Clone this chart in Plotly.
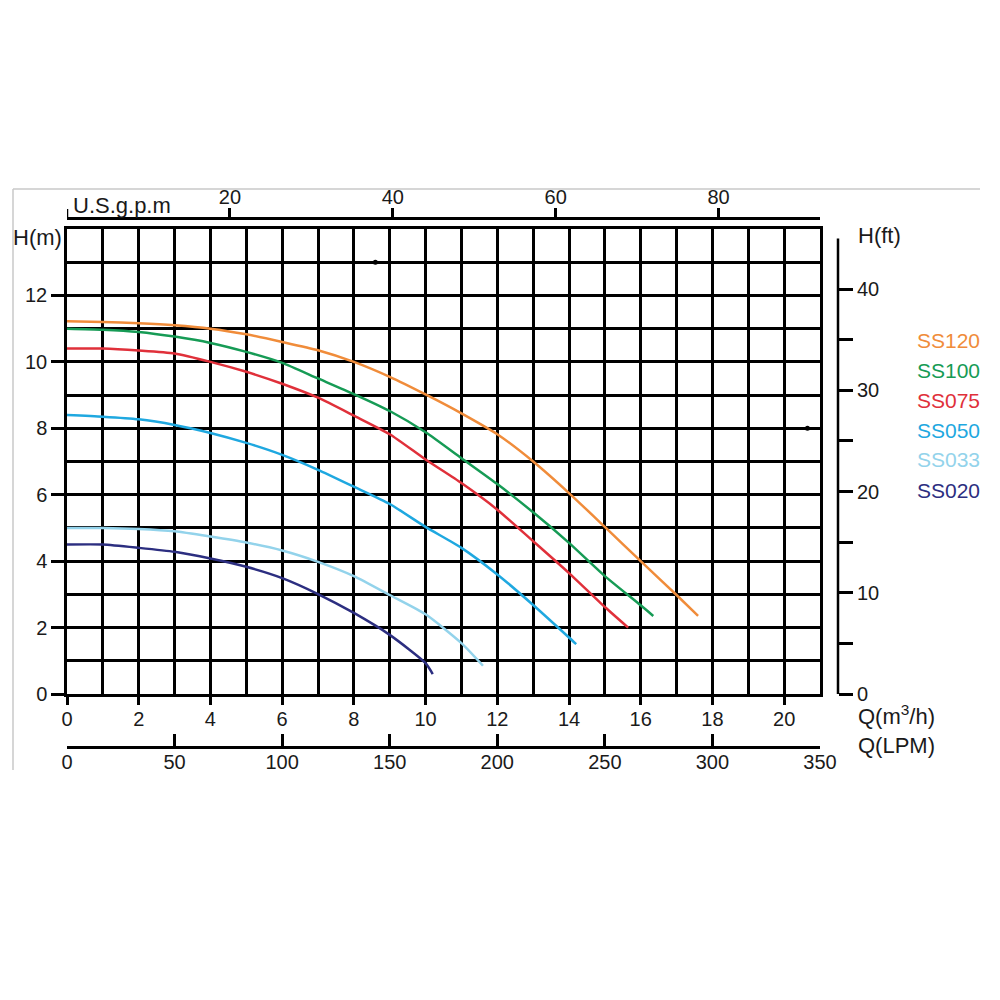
import plotly.graph_objects as go

# ---------------- data ----------------
ss120_q = [0, 1, 2, 3, 4, 5, 6, 7, 8, 9, 10, 11, 12, 13, 14, 15, 16, 17, 17.6]
ss120_h = [11.22, 11.2, 11.16, 11.1, 11.0, 10.83, 10.6, 10.35, 10.0, 9.55, 9.02, 8.45, 7.82, 7.0, 6.05, 5.03, 4.0, 2.98, 2.35]

ss100_q = [0, 1, 2, 3, 4, 5, 6, 7, 8, 9, 10, 11, 12, 13, 14, 15, 16, 16.35]
ss100_h = [11.0, 10.97, 10.9, 10.76, 10.57, 10.3, 9.97, 9.5, 9.03, 8.52, 7.88, 7.1, 6.32, 5.47, 4.55, 3.55, 2.67, 2.35]

ss075_q = [0, 1, 2, 3, 4, 5, 6, 7, 8, 9, 10, 11, 12, 13, 14, 15, 15.65]
ss075_h = [10.4, 10.4, 10.34, 10.25, 10.0, 9.7, 9.34, 8.92, 8.38, 7.82, 7.06, 6.35, 5.55, 4.6, 3.64, 2.62, 2.0]

ss050_q = [0, 1, 2, 3, 4, 5, 6, 7, 8, 9, 10, 11, 12, 13, 14, 14.2]
ss050_h = [8.4, 8.35, 8.27, 8.1, 7.86, 7.56, 7.2, 6.75, 6.24, 5.72, 5.03, 4.4, 3.6, 2.68, 1.7, 1.5]

ss033_q = [0, 1, 2, 3, 4, 5, 6, 7, 8, 9, 10, 11, 11.6]
ss033_h = [5.0, 5.0, 4.97, 4.9, 4.74, 4.56, 4.32, 3.98, 3.55, 2.98, 2.4, 1.53, 0.85]

ss020_q = [0, 1, 2, 3, 4, 5, 6, 7, 8, 9, 10, 10.2]
ss020_h = [4.5, 4.5, 4.4, 4.28, 4.08, 3.83, 3.49, 3.01, 2.44, 1.78, 0.93, 0.6]

series_names = ["SS120", "SS100", "SS075", "SS050", "SS033", "SS020"]
series_colors = ["#F08C3A", "#169B55", "#E0303A", "#1FA8E0", "#93D3EB", "#2C2E80"]

# axis tick values
q_ticks = [0, 2, 4, 6, 8, 10, 12, 14, 16, 18, 20]
h_ticks = [0, 2, 4, 6, 8, 10, 12]
gpm_ticks = [20, 40, 60, 80]
lpm_ticks = [0, 50, 100, 150, 200, 250, 300, 350]
ft_ticks = [0, 10, 20, 30, 40]
ft_minor = [5, 15, 25, 35]

# stray dots in the reference picture
dot_q = [8.6, 20.65]
dot_h = [13.0, 8.0]

Q_MAX = 21
H_MAX = 14
GPM_PER_M3H = 4.40287
M_PER_FT = 0.3048

FONT = "Liberation Sans, Arial, sans-serif"
TXT = "#1a1a1a"

fig = go.Figure()

curves = [(ss120_q, ss120_h), (ss100_q, ss100_h), (ss075_q, ss075_h),
          (ss050_q, ss050_h), (ss033_q, ss033_h), (ss020_q, ss020_h)]
for (q, h), name, col in zip(curves, series_names, series_colors):
    fig.add_trace(go.Scatter(x=q, y=h, mode="lines", name=name,
                             line=dict(color=col, width=2.5, shape="spline", smoothing=0.6),
                             hoverinfo="skip"))

fig.add_trace(go.Scatter(x=dot_q, y=dot_h, mode="markers",
                         marker=dict(color="black", size=5), hoverinfo="skip"))

# hidden traces to activate the secondary axes
fig.add_trace(go.Scatter(x=[None], y=[None], xaxis="x2", yaxis="y", hoverinfo="skip"))
fig.add_trace(go.Scatter(x=[None], y=[None], xaxis="x3", yaxis="y", hoverinfo="skip"))
fig.add_trace(go.Scatter(x=[None], y=[None], xaxis="x", yaxis="y2", hoverinfo="skip"))

LW = 2.5
tickfont = dict(family=FONT, size=20, color=TXT)
GPM_POS = 0.782

fig.update_layout(
    width=1000, height=1000, autosize=False,
    margin=dict(l=0, r=0, t=0, b=0, pad=0, autoexpand=False),
    paper_bgcolor="white", plot_bgcolor="white",
    showlegend=False,
    xaxis=dict(
        domain=[0.067, 0.820], range=[0, Q_MAX], automargin=False,
        tickvals=q_ticks, ticks="outside", ticklen=8, tickwidth=LW, tickcolor="black",
        ticklabelstandoff=-3,
        showgrid=True, gridcolor="black", gridwidth=LW,
        minor=dict(dtick=1, tick0=0, showgrid=True, gridcolor="black", gridwidth=LW, ticks=""),
        showline=True, linecolor="black", linewidth=LW, mirror=True,
        zeroline=False, tickfont=tickfont,
    ),
    yaxis=dict(
        domain=[0.306, 0.771], range=[0, H_MAX], automargin=False,
        tickvals=h_ticks, ticks="outside", ticklen=13, tickwidth=LW, tickcolor="black",
        showgrid=True, gridcolor="black", gridwidth=LW,
        minor=dict(dtick=1, tick0=0, showgrid=True, gridcolor="black", gridwidth=LW, ticks=""),
        showline=True, linecolor="black", linewidth=LW, mirror=True,
        zeroline=False, tickfont=tickfont,
    ),
    xaxis2=dict(
        overlaying="x", side="top", anchor="free", position=GPM_POS, automargin=False,
        range=[0, Q_MAX * GPM_PER_M3H],
        tickvals=gpm_ticks, ticklabelstandoff=-4,
        ticks="outside", ticklen=9, tickwidth=LW, tickcolor="black",
        showline=True, linecolor="black", linewidth=LW,
        showgrid=False, zeroline=False, tickfont=tickfont,
    ),
    xaxis3=dict(
        overlaying="x", side="bottom", anchor="free", position=0.253, automargin=False,
        range=[0, Q_MAX * 1000 / 60],
        tickvals=lpm_ticks, ticks="inside", ticklen=12, tickwidth=LW, tickcolor="black",
        ticklabelstandoff=-4,
        showline=True, linecolor="black", linewidth=LW,
        showgrid=False, zeroline=False, tickfont=tickfont,
    ),
    yaxis2=dict(
        overlaying="y", side="right", anchor="free", position=0.838, automargin=False,
        range=[0, H_MAX / M_PER_FT],
        tickvals=ft_ticks, ticks="outside", ticklen=14, tickwidth=LW, tickcolor="black",
        minor=dict(tickvals=ft_minor, ticks="outside", ticklen=14, tickwidth=LW,
                   tickcolor="black", showgrid=False),
        showline=False, showgrid=False, zeroline=False, tickfont=tickfont,
    ),
)

# right axis line (0 .. 45 ft)
fig.add_shape(type="line", xref="paper", yref="y2", x0=0.838, x1=0.838, y0=0, y1=45,
              line=dict(color="black", width=LW))
# small end tick at the start of the U.S.gpm axis
fig.add_shape(type="line", xref="x2", yref="paper", x0=0, x1=0, y0=GPM_POS, y1=GPM_POS + 0.009,
              line=dict(color="black", width=LW))

# light grey picture frame
fig.add_shape(type="line", xref="paper", yref="paper", x0=0.013, x1=0.98, y0=0.811, y1=0.811,
              line=dict(color="#c8c8c8", width=1.5))
fig.add_shape(type="line", xref="paper", yref="paper", x0=0.013, x1=0.013, y0=0.811, y1=0.230,
              line=dict(color="#c8c8c8", width=1.5))

title_font = dict(family=FONT, size=22, color=TXT)
labels = [
    ("H(m)", 0.011, 0.763, "left"),
    ("H(ft)", 0.856, 0.765, "left"),
    ("U.S.g.p.m", 0.071, 0.794, "left"),
    ("Q(m<sup>3</sup>/h)", 0.856, 0.285, "left"),
    ("Q(LPM)", 0.856, 0.255, "left"),
]
for text, x, y, xa in labels:
    fig.add_annotation(text=text, x=x, y=y, xref="paper", yref="paper",
                       xanchor=xa, yanchor="middle", showarrow=False, font=title_font)

for i, (name, col) in enumerate(zip(series_names, series_colors)):
    fig.add_annotation(text=name, x=0.948, y=1 - (0.340 + 0.030 * i), xref="paper", yref="paper",
                       xanchor="center", yanchor="middle", showarrow=False,
                       font=dict(family=FONT, size=21, color=col))

fig.write_html("out.html")
